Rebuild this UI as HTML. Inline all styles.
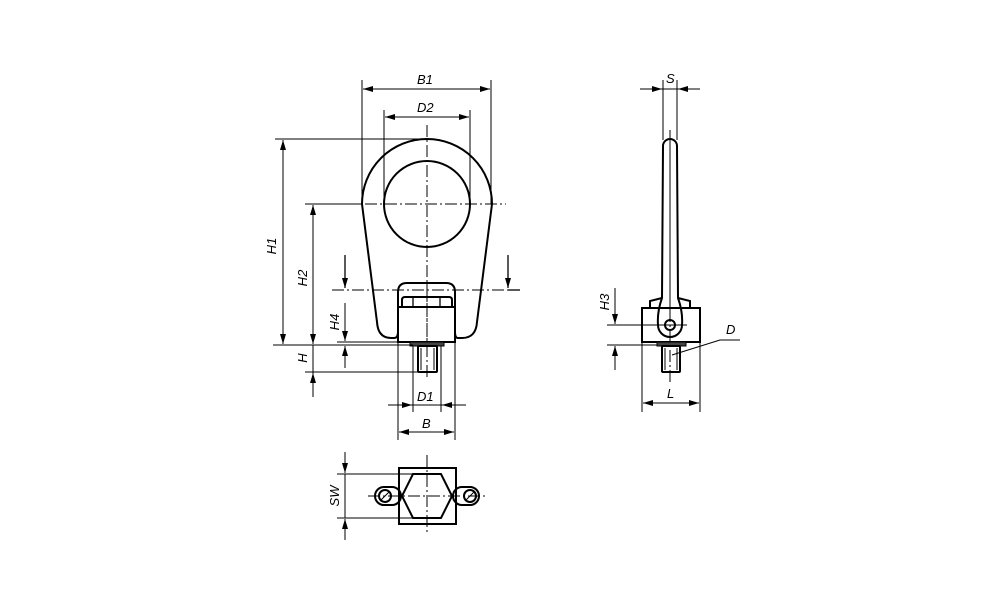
<!DOCTYPE html>
<html><head><meta charset="utf-8"><style>
html,body{margin:0;padding:0;background:#fff}
svg{display:block}
text{font-family:"Liberation Sans",sans-serif;font-style:italic;font-size:13px;fill:#000}
.b{fill:none;stroke:#000;stroke-width:2}
.d{fill:none;stroke:#000;stroke-width:1}
.c{fill:none;stroke:#000;stroke-width:1;stroke-dasharray:12 3 2 3}
</style></head><body>
<svg width="1000" height="611" viewBox="0 0 1000 611" xmlns="http://www.w3.org/2000/svg">
<defs>
<marker id="a" viewBox="0 0 10 6" refX="10" refY="3" markerWidth="10" markerHeight="6" markerUnits="userSpaceOnUse" orient="auto-start-reverse"><path d="M0,0 L10,3 L0,6 z" fill="#000"/></marker>
</defs>

<!-- ===== FRONT VIEW ===== -->
<line class="c" x1="427" y1="125" x2="427" y2="380"/>
<line class="c" x1="305" y1="204" x2="506" y2="204"/>
<line class="c" x1="332" y1="290" x2="520" y2="290"/>
<line class="d" x1="345" y1="255" x2="345" y2="288" marker-end="url(#a)" style="stroke-width:1.3"/>
<line class="d" x1="508" y1="255" x2="508" y2="288" marker-end="url(#a)" style="stroke-width:1.3"/>
<line class="d" x1="508" y1="290" x2="520" y2="290" style="stroke-width:1.3"/>
<!-- eye body -->
<path class="b" d="M362,204 A65,65 0 0 1 492,204 L477,322 Q476,338 462,338 L458,338 Q455,338 455,332"/>
<path class="b" d="M398,332 Q398,338 394,338 L391,338 Q378,338 377,322 L362,204"/>
<circle class="b" cx="427" cy="204" r="43"/>
<!-- socket -->
<path class="b" d="M398,342 L398,292 Q398,283 407,283 L446,283 Q455,283 455,292 L455,342 Z" fill="#fff"/>
<path class="b" d="M402,307 L402,300 Q402,297 405,297 L449,297 Q452,297 452,300 L452,307 M398,307 L455,307"/>
<line class="d" x1="413" y1="297" x2="413" y2="307" style="stroke-width:1.3"/>
<line class="d" x1="440" y1="297" x2="440" y2="307" style="stroke-width:1.3"/>
<line class="c" x1="427" y1="283" x2="427" y2="342"/>
<rect x="410" y="342" width="34" height="4" fill="#444" stroke="#000" stroke-width="1"/>
<rect class="b" x="418" y="346" width="19" height="26" rx="1"/>
<line class="d" x1="421" y1="348" x2="421" y2="370"/>
<line class="d" x1="434" y1="348" x2="434" y2="370"/>
<!-- B1 -->
<line class="d" x1="362" y1="80" x2="362" y2="204"/>
<line class="d" x1="491" y1="80" x2="491" y2="204"/>
<line class="d" x1="363" y1="89" x2="490" y2="89" marker-start="url(#a)" marker-end="url(#a)"/>
<text x="417" y="84">B1</text>
<!-- D2 -->
<line class="d" x1="384" y1="110" x2="384" y2="204"/>
<line class="d" x1="470" y1="110" x2="470" y2="204"/>
<line class="d" x1="385" y1="117" x2="469" y2="117" marker-start="url(#a)" marker-end="url(#a)"/>
<text x="417" y="112">D2</text>
<!-- H1 -->
<line class="d" x1="275" y1="139" x2="427" y2="139"/>
<line class="d" x1="273" y1="345" x2="413" y2="345"/>
<line class="d" x1="283" y1="140" x2="283" y2="344" marker-start="url(#a)" marker-end="url(#a)"/>
<text transform="translate(276,246) rotate(-90)" text-anchor="middle">H1</text>
<!-- H2 / H -->
<line class="d" x1="305" y1="204" x2="362" y2="204"/>
<line class="d" x1="305" y1="372" x2="418" y2="372"/>
<line class="d" x1="313" y1="205" x2="313" y2="344" marker-start="url(#a)" marker-end="url(#a)"/>
<line class="d" x1="313" y1="345" x2="313" y2="397"/>
<line class="d" x1="313" y1="397" x2="313" y2="373" marker-end="url(#a)"/>
<text transform="translate(307,278) rotate(-90)" text-anchor="middle">H2</text>
<text transform="translate(307,358) rotate(-90)" text-anchor="middle">H</text>
<!-- H4 -->
<line class="d" x1="337" y1="342" x2="410" y2="342"/>
<line class="d" x1="345" y1="303" x2="345" y2="341" marker-end="url(#a)"/>
<line class="d" x1="345" y1="368" x2="345" y2="346" marker-end="url(#a)"/>
<text transform="translate(339,322) rotate(-90)" text-anchor="middle">H4</text>
<!-- D1 / B -->
<line class="d" x1="413" y1="346" x2="413" y2="412"/>
<line class="d" x1="441" y1="346" x2="441" y2="412"/>
<line class="d" x1="398" y1="342" x2="398" y2="440"/>
<line class="d" x1="455" y1="342" x2="455" y2="440"/>
<line class="d" x1="388" y1="405" x2="412" y2="405" marker-end="url(#a)"/>
<line class="d" x1="466" y1="405" x2="442" y2="405" marker-end="url(#a)"/>
<line class="d" x1="412" y1="405" x2="442" y2="405"/>
<text x="417" y="401">D1</text>
<line class="d" x1="399" y1="432" x2="454" y2="432" marker-start="url(#a)" marker-end="url(#a)"/>
<text x="422" y="428">B</text>

<!-- ===== SIDE VIEW ===== -->
<line class="c" x1="670" y1="130" x2="670" y2="385"/>
<line class="d" x1="663" y1="80" x2="663" y2="140"/>
<line class="d" x1="677" y1="80" x2="677" y2="140"/>
<line class="d" x1="640" y1="89" x2="662" y2="89" marker-end="url(#a)"/>
<line class="d" x1="700" y1="89" x2="678" y2="89" marker-end="url(#a)"/>
<line class="d" x1="662" y1="89" x2="678" y2="89"/>
<text x="666" y="83">S</text>
<path class="b" d="M650,308 L650,301 L662,298 M678,298 L690,301 L690,308"/>
<rect class="b" x="642" y="308" width="58" height="34" fill="#fff"/>
<rect x="657" y="342" width="29" height="4" fill="#444" stroke="#000" stroke-width="1"/>
<rect class="b" x="662" y="346" width="18" height="26" rx="1"/>
<line class="d" x1="665" y1="348" x2="665" y2="370"/>
<line class="d" x1="677" y1="348" x2="677" y2="370"/>
<path class="b" d="M663,146 A7,7 0 0 1 677,146 L678,298 Q683,312 682,325 A12,12 0 0 1 658,325 Q657,312 662,298 Z" fill="#fff"/>
<line class="c" x1="670" y1="140" x2="670" y2="318"/>
<circle class="b" cx="670" cy="325" r="5"/>
<line class="d" x1="607" y1="325" x2="687" y2="325"/>
<line class="d" x1="607" y1="345" x2="657" y2="345"/>
<line class="d" x1="615" y1="288" x2="615" y2="324" marker-end="url(#a)"/>
<line class="d" x1="615" y1="370" x2="615" y2="346" marker-end="url(#a)"/>
<text transform="translate(609,302) rotate(-90)" text-anchor="middle">H3</text>
<polyline class="d" points="672,355 720,340 740,340"/>
<text x="726" y="334">D</text>
<line class="d" x1="642" y1="342" x2="642" y2="412"/>
<line class="d" x1="700" y1="342" x2="700" y2="412"/>
<line class="d" x1="643" y1="403" x2="699" y2="403" marker-start="url(#a)" marker-end="url(#a)"/>
<text x="667" y="398">L</text>

<!-- ===== BOTTOM VIEW ===== -->
<rect class="b" x="375" y="487" width="26" height="18" rx="9"/>
<rect class="b" x="453" y="487" width="26" height="18" rx="9"/>
<rect class="b" x="399" y="468" width="57" height="56" fill="#fff"/>
<polygon class="b" points="413,474 441,474 452,496 441,518 413,518 402,496"/>
<circle class="b" cx="385" cy="496" r="6"/>
<circle class="b" cx="470" cy="496" r="6"/>
<line class="d" x1="381" y1="500" x2="389" y2="492"/>
<line class="d" x1="466" y1="500" x2="474" y2="492"/>
<line class="c" x1="368" y1="496" x2="488" y2="496"/>
<line class="c" x1="427" y1="455" x2="427" y2="535"/>
<line class="d" x1="337" y1="474" x2="413" y2="474"/>
<line class="d" x1="337" y1="518" x2="413" y2="518"/>
<line class="d" x1="345" y1="452" x2="345" y2="473" marker-end="url(#a)"/>
<line class="d" x1="345" y1="540" x2="345" y2="519" marker-end="url(#a)"/>
<line class="d" x1="345" y1="474" x2="345" y2="518"/>
<text transform="translate(339,496) rotate(-90)" text-anchor="middle">SW</text>
</svg>
</body></html>
